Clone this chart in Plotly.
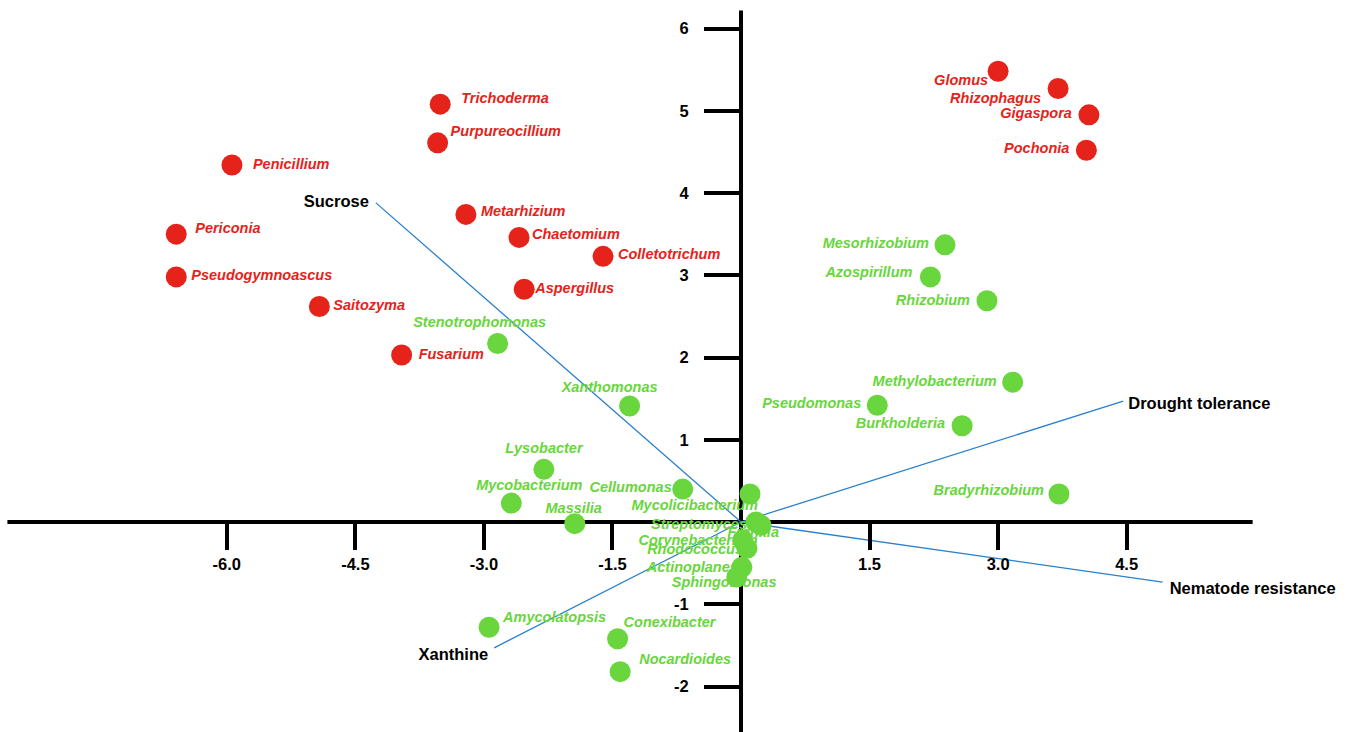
import plotly.graph_objects as go

# ---- Fungal genera (red) ----
fungi = ["Glomus", "Rhizophagus", "Gigaspora", "Pochonia", "Trichoderma",
         "Purpureocillium", "Penicillium", "Periconia", "Pseudogymnoascus",
         "Saitozyma", "Fusarium", "Metarhizium", "Chaetomium", "Aspergillus",
         "Colletotrichum"]
fungi_pc1 = [3.00, 3.70, 4.06, 4.03, -3.51, -3.54, -5.94, -6.59, -6.59,
             -4.92, -3.96, -3.21, -2.59, -2.53, -1.61]
fungi_pc2 = [5.48, 5.27, 4.95, 4.52, 5.08, 4.61, 4.34, 3.50, 2.98,
             2.62, 2.03, 3.74, 3.46, 2.83, 3.23]

# ---- Bacterial genera (green) ----
bacteria = ["Mesorhizobium", "Azospirillum", "Rhizobium", "Methylobacterium",
            "Pseudomonas", "Burkholderia", "Bradyrhizobium", "Stenotrophomonas",
            "Xanthomonas", "Lysobacter", "Mycobacterium", "Massilia",
            "Cellumonas", "Mycolicibacterium", "Streptomyces", "Frankia",
            "Corynebacterium", "Rhodococcus", "Actinoplanes", "Sphingomonas",
            "Amycolatopsis", "Conexibacter", "Nocardioides"]
bacteria_pc1 = [2.38, 2.21, 2.87, 3.17, 1.59, 2.58, 3.71, -2.84, -1.30, -2.30,
                -2.68, -1.94, -0.68, 0.105, 0.175, 0.233, 0.02, 0.07, 0.01,
                -0.05, -2.94, -1.44, -1.41]
bacteria_pc2 = [3.37, 2.98, 2.69, 1.70, 1.42, 1.17, 0.34, 2.17, 1.41, 0.64,
                0.23, -0.02, 0.40, 0.34, 0.00, -0.04, -0.22, -0.32, -0.55,
                -0.67, -1.28, -1.42, -1.82]

# ---- Trait loading vectors ----
traits = ["Sucrose", "Drought tolerance", "Nematode resistance", "Xanthine"]
trait_pc1 = [-4.26, 4.46, 4.92, -2.88]
trait_pc2 = [3.88, 1.47, -0.73, -1.53]

# ---- Axis ticks ----
x_ticks = [-6.0, -4.5, -3.0, -1.5, 1.5, 3.0, 4.5]
x_tick_text = ["-6.0", "-4.5", "-3.0", "-1.5", "1.5", "3.0", "4.5"]
y_ticks = [-2, -1, 1, 2, 3, 4, 5, 6]
y_tick_text = ["-2", "-1", "1", "2", "3", "4", "5", "6"]

# ---- Styling / layout constants ----
W, H = 1360, 732
PX_X = 85.7          # pixels per x unit
PX_Y = 82.25         # pixels per y unit
ORIGIN_PX = (741, 522)
RED = "#e5231a"
GREEN = "#68d63c"
BLUE = "#2a80cc"
FONT = "Liberation Sans"

# label placement: (side, dx px, dy px); side R = text starts right of anchor,
# L = text ends at anchor, C = centred
label_pos = {
    "Trichoderma": ("R", 21, -5), "Purpureocillium": ("R", 13, -10),
    "Penicillium": ("R", 21, 0), "Periconia": ("R", 19, -5),
    "Pseudogymnoascus": ("R", 15, -1), "Saitozyma": ("R", 14, 0),
    "Fusarium": ("R", 17, 0), "Metarhizium": ("R", 15, -2),
    "Chaetomium": ("R", 13, -2), "Aspergillus": ("R", 11, 0),
    "Colletotrichum": ("R", 15, -1), "Glomus": ("L", -10, 10),
    "Rhizophagus": ("L", -17, 11), "Gigaspora": ("L", -17, 0),
    "Pochonia": ("L", -17, -1),
    "Mesorhizobium": ("L", -16, 0), "Azospirillum": ("L", -18, -4),
    "Rhizobium": ("L", -17, 1), "Methylobacterium": ("L", -16, 0),
    "Pseudomonas": ("L", -16, -1), "Burkholderia": ("L", -17, -1),
    "Bradyrhizobium": ("L", -15, -3), "Stenotrophomonas": ("C", -18, -20),
    "Xanthomonas": ("C", -20, -18), "Lysobacter": ("C", 0, -20),
    "Mycobacterium": ("C", 18, -17), "Massilia": ("C", -1, -14),
    "Cellumonas": ("L", -11, -1), "Mycolicibacterium": ("L", 8, 12),
    "Streptomyces": ("L", -9, 3), "Frankia": ("L", 18, 8),
    "Corynebacterium": ("L", 15, 1), "Rhodococcus": ("L", -4, 2),
    "Actinoplanes": ("L", -4, 1), "Sphingomonas": ("R", -65, 6),
    "Amycolatopsis": ("R", 14, -9), "Conexibacter": ("R", 6, -15),
    "Nocardioides": ("R", 19, -11),
    "Sucrose": ("L", -7, 0), "Drought tolerance": ("R", 5, 4),
    "Nematode resistance": ("R", 7, 8), "Xanthine": ("L", -6, 8),
}
POS = {"R": "middle right", "L": "middle left", "C": "middle center"}


def placed(names, xs, ys):
    px, py, pos = [], [], []
    for n, x, y in zip(names, xs, ys):
        side, dx, dy = label_pos[n]
        px.append(x + dx / PX_X)
        py.append(y - dy / PX_Y)
        pos.append(POS[side])
    return px, py, pos


fig = go.Figure()

# loading vectors (drawn first so the points sit on top)
for name, vx, vy in zip(traits, trait_pc1, trait_pc2):
    fig.add_trace(go.Scatter(x=[0, vx], y=[0, vy], mode="lines",
                             line=dict(color=BLUE, width=1.3),
                             hoverinfo="skip"))

# genus labels, below the markers
for names, xs, ys, col in [(fungi, fungi_pc1, fungi_pc2, RED),
                           (bacteria, bacteria_pc1, bacteria_pc2, GREEN)]:
    tx, ty, tp = placed(names, xs, ys)
    fig.add_trace(go.Scatter(x=tx, y=ty, mode="text", text=names,
                             textposition=tp,
                             textfont=dict(family=FONT, size=14.5, color=col,
                                           weight="bold", style="italic"),
                             hoverinfo="skip"))

# trait labels
tx, ty, tp = placed(traits, trait_pc1, trait_pc2)
fig.add_trace(go.Scatter(x=tx, y=ty, mode="text", text=traits,
                         textposition=tp,
                         textfont=dict(family=FONT, size=16.5, color="black",
                                       weight="bold"),
                         hoverinfo="skip"))

# genus markers
fig.add_trace(go.Scatter(x=fungi_pc1, y=fungi_pc2, mode="markers",
                         marker=dict(size=21, color=RED, line=dict(width=0)),
                         text=fungi, hoverinfo="text"))
fig.add_trace(go.Scatter(x=bacteria_pc1, y=bacteria_pc2, mode="markers",
                         marker=dict(size=21, color=GREEN, line=dict(width=0)),
                         text=bacteria, hoverinfo="text"))

x_range = [-ORIGIN_PX[0] / PX_X, (W - ORIGIN_PX[0]) / PX_X]
y_range = [-(H - ORIGIN_PX[1]) / PX_Y, ORIGIN_PX[1] / PX_Y]

# axis lines crossing at the origin
fig.add_shape(type="line", xref="x", yref="y", x0=-8.56, x1=5.97, y0=0, y1=0,
              line=dict(color="black", width=4), layer="below")
fig.add_shape(type="line", xref="x", yref="y", x0=0, x1=0, y0=y_range[0],
              y1=6.22, line=dict(color="black", width=4), layer="below")

tickfont = dict(family=FONT, size=16.5, color="black", weight="bold")
fig.update_layout(
    width=W, height=H, margin=dict(l=0, r=0, t=0, b=0),
    paper_bgcolor="white", plot_bgcolor="white", showlegend=False,
    xaxis=dict(range=x_range, anchor="free",
               position=(H - ORIGIN_PX[1]) / H, side="bottom",
               showgrid=False, zeroline=False, showline=False,
               ticks="outside", ticklen=27, tickwidth=4, tickcolor="black",
               tickvals=x_ticks, ticktext=x_tick_text, tickfont=tickfont,
               ticklabelstandoff=0, automargin=False, fixedrange=True),
    yaxis=dict(range=y_range, anchor="free", position=ORIGIN_PX[0] / W,
               side="left", showgrid=False, zeroline=False, showline=False,
               ticks="outside", ticklen=37, tickwidth=4, tickcolor="black",
               tickvals=y_ticks, ticktext=y_tick_text, tickfont=tickfont,
               ticklabelstandoff=12, automargin=False, fixedrange=True),
)

fig.write_html("out.html")
